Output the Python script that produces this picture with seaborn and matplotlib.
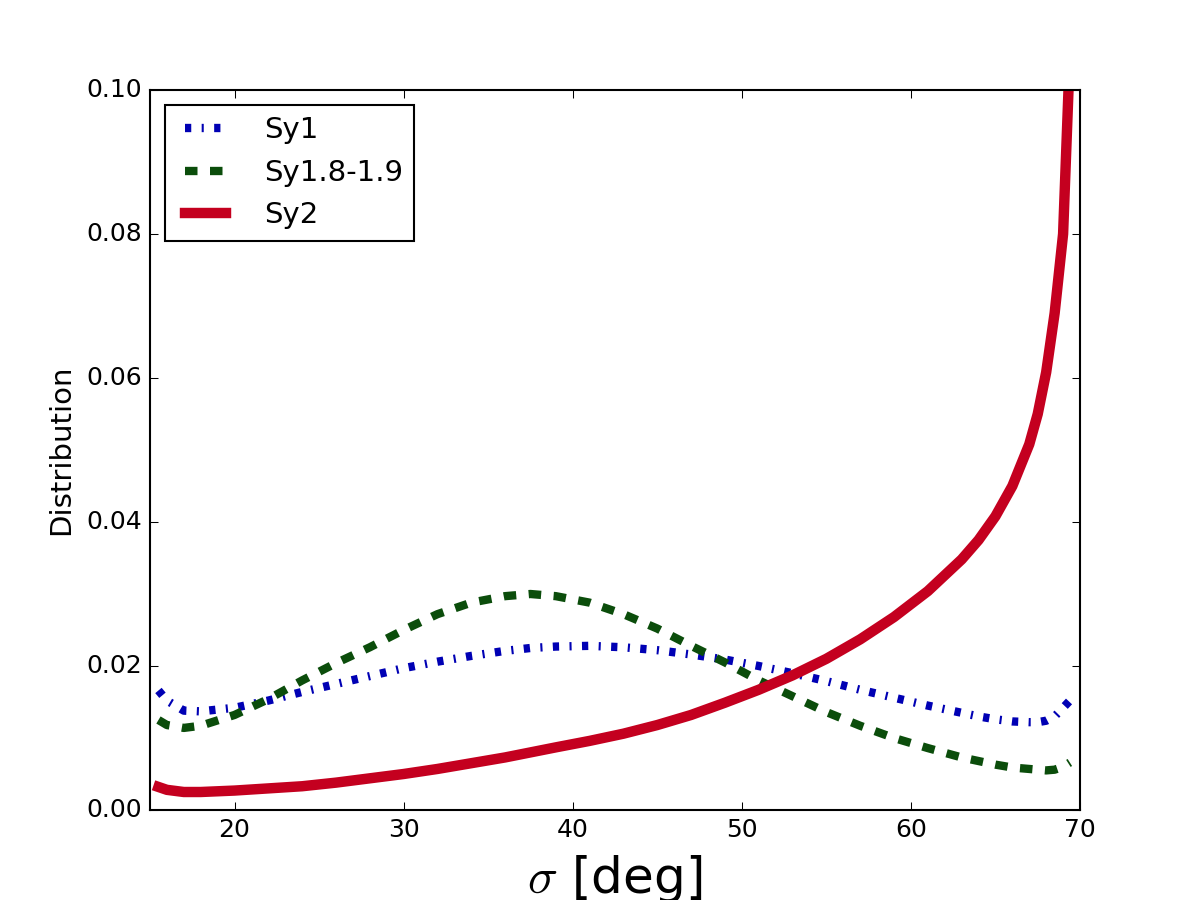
import pandas as pd
import matplotlib
matplotlib.use("Agg")
import matplotlib.pyplot as plt
import seaborn as sns

# sigma grid [deg] and distributions
sigma = [15.5, 16, 17, 18, 20, 22, 24, 26, 28, 30, 32, 34, 36, 37.5, 39, 41, 43, 45, 47,
         49, 51, 53, 55, 57, 59, 61, 63, 64, 65, 66, 67, 67.5, 68, 68.5, 69, 69.4]

sy1 = [0.0166, 0.0152, 0.0138, 0.0137, 0.0142, 0.0152, 0.0164, 0.0175, 0.0186, 0.0197,
       0.0206, 0.0214, 0.0221, 0.0225, 0.0227, 0.0228, 0.0226, 0.0222, 0.0216, 0.0209,
       0.0200, 0.0190, 0.0179, 0.0167, 0.0156, 0.0145, 0.0135, 0.0130, 0.0126, 0.0123,
       0.0122, 0.0122, 0.0124, 0.0130, 0.0142, 0.0152]

sy18 = [0.0125, 0.0118, 0.0114, 0.0117, 0.0132, 0.0154, 0.0180, 0.0204, 0.0226, 0.0250,
        0.0272, 0.0288, 0.0297, 0.0300, 0.0297, 0.0288, 0.0272, 0.0252, 0.0228, 0.0205,
        0.0180, 0.0158, 0.0136, 0.0117, 0.0100, 0.0086, 0.0073, 0.0068, 0.0063, 0.0059,
        0.0057, 0.0056, 0.0055, 0.0056, 0.0060, 0.0066]

sy2 = [0.0032, 0.0028, 0.0025, 0.0025, 0.0027, 0.0030, 0.0033, 0.0038, 0.0044, 0.0050,
       0.0057, 0.0065, 0.0073, 0.0080, 0.0087, 0.0096, 0.0106, 0.0118, 0.0132, 0.0149,
       0.0167, 0.0187, 0.0210, 0.0237, 0.0268, 0.0304, 0.0348, 0.0375, 0.0408, 0.0450,
       0.0508, 0.0550, 0.0608, 0.0690, 0.0800, 0.1050]

labels = ["Sy1", "Sy1.8-1.9", "Sy2"]

df = pd.DataFrame({"sigma": sigma, "Sy1": sy1, "Sy1.8-1.9": sy18, "Sy2": sy2})

plt.style.use("classic")
plt.rcParams["figure.facecolor"] = "white"
plt.rcParams["savefig.facecolor"] = "white"
plt.rcParams["lines.scale_dashes"] = False

fig, ax = plt.subplots(figsize=(8, 6), dpi=150)

sns.lineplot(data=df, x="sigma", y="Sy1", ax=ax, color="#0000b4", lw=4,
             linestyle=(0, (3, 5, 1, 5)), label=labels[0])
sns.lineplot(data=df, x="sigma", y="Sy1.8-1.9", ax=ax, color="#0b4d0b", lw=4,
             linestyle=(0, (6, 6)), label=labels[1])
sns.lineplot(data=df, x="sigma", y="Sy2", ax=ax, color="#c4001f", lw=5,
             linestyle="-", label=labels[2])

ax.set_xlim(15, 70)
ax.set_ylim(0, 0.1)
ax.set_xticks([20, 30, 40, 50, 60, 70])
ax.set_yticks([0.0, 0.02, 0.04, 0.06, 0.08, 0.10])
ax.yaxis.set_major_formatter(matplotlib.ticker.FormatStrFormatter("%.2f"))
ax.set_xlabel(r"$\sigma$ [deg]", fontsize=24)
ax.set_ylabel("Distribution", fontsize=14)

ax.legend(loc="upper left", fontsize=14, handlelength=2.0, handletextpad=1.0)

plt.savefig("out.png", dpi=150)
